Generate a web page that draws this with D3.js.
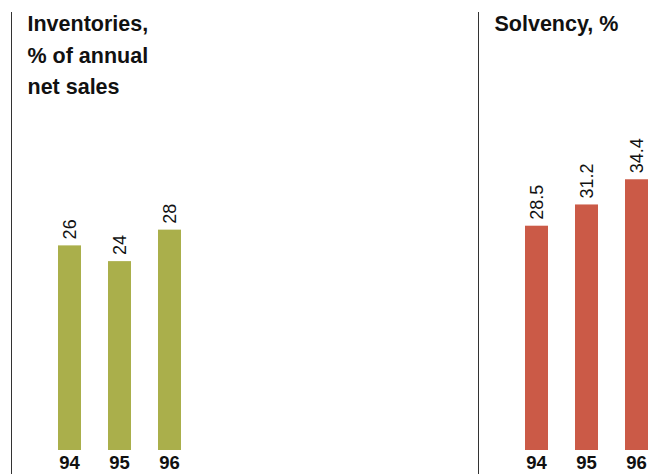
<!DOCTYPE html>
<html>
<head>
<meta charset="utf-8">
<script src="https://cdn.jsdelivr.net/npm/d3@7"></script>
<style>
  body { margin: 0; background: #fff; }
  svg { display: block; font-family: "Liberation Sans", Arial, sans-serif; }
  .title { font-weight: bold; font-size: 21.5px; fill: #111; }
  .val { font-size: 18px; fill: #111; }
  .axis text { font-weight: bold; font-size: 18.5px; fill: #111; }
</style>
</head>
<body>
<div id="chart"></div>
<script>
// data
const years = ['94', '95', '96'];
const inventories = [26, 24, 28];
const solvency = [28.5, 31.2, 34.4];
const inventoriesTitle = ['Inventories,', '% of annual', 'net sales'];
const solvencyTitle = ['Solvency, %'];

const width = 650, height = 474;
const baseY = 450;

const svg = d3.select('#chart').append('svg')
  .attr('width', width)
  .attr('height', height);

const yScale = d3.scaleLinear().domain([0, 40]).range([baseY, baseY - 40 * 7.87]);

function drawPanel(lineX, titleLines, values, color, labelFmt) {
  const g = svg.append('g');

  g.append('line')
    .attr('x1', lineX).attr('x2', lineX)
    .attr('y1', 12).attr('y2', height)
    .attr('stroke', '#333')
    .attr('stroke-width', 1);

  g.selectAll('.title').data(titleLines).enter().append('text')
    .attr('class', 'title')
    .attr('x', lineX + 16)
    .attr('y', (d, i) => 31 + i * 31.5)
    .text(d => d);

  const xScale = d3.scaleBand()
    .domain(years)
    .range([lineX + 33, lineX + 183])
    .paddingInner(0.54)
    .paddingOuter(0.27);

  g.selectAll('rect').data(values).enter().append('rect')
    .attr('x', (d, i) => xScale(years[i]))
    .attr('y', d => yScale(d))
    .attr('width', xScale.bandwidth())
    .attr('height', d => baseY - yScale(d))
    .style('fill', color);

  g.selectAll('.val').data(values).enter().append('text')
    .attr('class', 'val')
    .attr('transform', (d, i) => `translate(${xScale(years[i]) + xScale.bandwidth() / 2 + 6.5},${yScale(d) - 6}) rotate(-90)`)
    .text(labelFmt);

  const axis = g.append('g')
    .attr('class', 'axis')
    .attr('transform', `translate(0,${baseY})`)
    .call(d3.axisBottom(xScale).tickSize(0).tickPadding(6));
  axis.select('.domain').remove();
  axis.selectAll('text').attr('dy', '0.71em').attr('font-family', null).attr('font-size', null);
}

drawPanel(11.5, inventoriesTitle, inventories, '#aaaf4b', d => d3.format('d')(d));
drawPanel(478.5, solvencyTitle, solvency, '#cb5a47', d => d3.format('.1f')(d));
</script>
</body>
</html>
